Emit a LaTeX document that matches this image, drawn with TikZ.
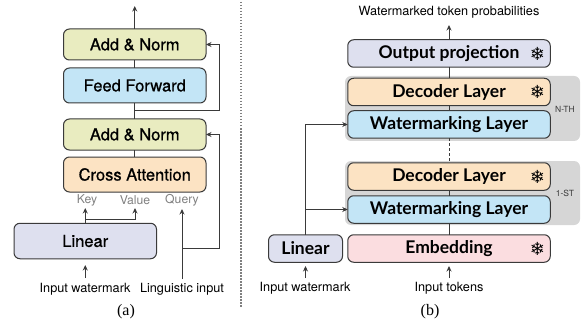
\documentclass[tikz,border=0pt]{standalone}
\usepackage{fontspec}
\setmainfont{TeX Gyre Heros}
\newfontfamily\addfont[FakeBold=0.8]{TeX Gyre Heros}
\newfontfamily\boxfont{Lato}
\newfontfamily\capfont{Liberation Serif}
\newfontfamily\flakefont{DejaVu Sans}
\usetikzlibrary{positioning, arrows.meta}
\definecolor{addcol}{HTML}{E9ECC0}
\definecolor{feedcol}{HTML}{C3E5F6}
\definecolor{crosscol}{HTML}{FCE3C3}
\definecolor{linearcol}{HTML}{DEE0EF}
\definecolor{embedcol}{HTML}{FBDDE0}
\definecolor{linecol}{HTML}{3A3A3A}
\tikzset{
    >={Stealth[length=5.5pt,width=5pt]},
    block/.style={draw=linecol, line width=1pt, rounded corners=6pt, outer sep=0pt, inner sep=0pt, text=black},
    wideblock/.style={block, minimum width=142.5pt, font=\addfont\fontsize{16.5}{18}\selectfont},
    layerblock/.style={block, minimum width=202.5pt, minimum height=27.5pt, font=\boxfont\bfseries\fontsize{17.5}{19}\selectfont},
    group/.style={fill=gray!32, rounded corners=6pt, minimum width=235pt, outer sep=0pt},
    flake/.style={font=\flakefont\fontsize{18}{18}\selectfont, inner sep=0pt, text=black},
    small/.style={font=\fontsize{12.7}{14}\selectfont, inner sep=0pt},
    port/.style={font=\fontsize{12.2}{14}\selectfont, inner sep=0pt, text=gray},
    tag/.style={font=\fontsize{8.5}{10}\selectfont, inner sep=0pt, text=linecol},
    caption/.style={font=\capfont\fontsize{16}{18}\selectfont, inner sep=0pt},
    wire/.style={draw=linecol, line width=1pt},
}
\begin{document}
\begin{tikzpicture}[x=1pt,y=-1pt]
    \useasboundingbox (0,0) rectangle (585,323);
    % left part
    \node[wideblock, fill=addcol, minimum height=31pt] (add2) at (134.75,44.5) {Add \& Norm};
    \node[wideblock, fill=feedcol, minimum height=35pt] (feed) [below=8pt of add2] {Feed Forward};
    \node[wideblock, fill=addcol, minimum height=31pt] (add1) [below=16pt of feed] {Add \& Norm};
    \node[wideblock, fill=crosscol, minimum height=35pt] (cross) [below=7pt of add1] {Cross Attention};
    \node[wideblock, fill=linearcol, minimum height=35.5pt] (lineara) at (85.25,241) {Linear};
    \node[port] (key) at (87,200) {Key};
    \node[port] (value) at (135,200) {Value};
    \node[port] (query) at (182,200) {Query};
    \node[small] (wma) at (85,289) {Input watermark};
    \node[small] (ling) at (182,289) {Linguistic input};
    \node[caption] (capa) at (126,312) {(a)};
    \coordinate (outa) at (134.75,6);
    \coordinate (skip2) at (134.75,111);
    \coordinate (skip2r) at (219,111);
    \coordinate (skip1) at (182,248);
    \coordinate (skip1r) at (219,248);
    \coordinate (kv) at (85.25,219);
    \coordinate (keyin) at (85.25,208);
    \coordinate (valin) at (135,208);
    \coordinate (wmatop) at (85.25,278);
    \coordinate (linbot) at (85.25,265);
    \coordinate (lingtop) at (182,279);
    \coordinate (qin) at (182,209);

    \draw[wire, ->] (add2) -- (outa);
    \draw[wire] (add2) -- (feed);
    \draw[wire] (feed) -- (add1);
    \draw[wire] (add1) -- (cross);
    \draw[wire, ->] (skip2) -- (skip2r) |- (add2.east);
    \draw[wire, ->] (skip1) -- (skip1r) |- (add1.east);
    \draw[wire, ->] (lineara.north) -- (keyin);
    \draw[wire, ->] (kv) -- (kv -| valin) -- (valin);
    \draw[wire, ->] (wmatop) -- (linbot);
    \draw[wire, ->] (lingtop) -- (qin);

    % separator
    \coordinate (sepa) at (241,2);
    \coordinate (sepb) at (241,308);
    \draw[gray, line width=1.3pt, dash pattern=on 1.5pt off 1.5pt] (sepa) -- (sepb);

    % right part
    \node[group, minimum height=65pt, anchor=west] (groupn) at (345,108.5) {};
    \node[group, minimum height=64pt, anchor=west] (groupf) at (345,193) {};
    \node[tag] (tagn) at (565,109) {N-TH};
    \node[tag] (tagf) at (565,193) {1-ST};
    \node[layerblock, fill=linearcol] (outproj) at (449,53.5) {Output projection};
    \node[layerblock, fill=crosscol] (decn) at (449,92) {Decoder Layer};
    \node[layerblock, fill=feedcol] (wmn) [below=5pt of decn] {Watermarking Layer};
    \node[layerblock, fill=crosscol] (decf) at (449,176.5) {Decoder Layer};
    \node[layerblock, fill=feedcol] (wmf) [below=5.5pt of decf] {Watermarking Layer};
    \node[layerblock, fill=embedcol] (embed) at (449,248.5) {Embedding};
    \node[block, fill=linearcol, minimum width=74pt, minimum height=27.5pt, font=\boxfont\bfseries\fontsize{17.5}{19}\selectfont] (linearb) at (305.5,248.5) {Linear};
    \node[flake] (flakeo) at (537.5,53.5) {❄};
    \node[flake] (flaken) at (537.5,92) {❄};
    \node[flake] (flakef) at (537.5,176.5) {❄};
    \node[flake] (flakee) at (537.5,248.5) {❄};
    \node[small] (probs) at (449,12) {Watermarked token probabilities};
    \node[small] (wmb) at (305,288) {Input watermark};
    \node[small] (tokens) at (449,288) {Input tokens};
    \node[caption] (capb) at (430,312) {(b)};
    \coordinate (outb) at (449,25);
    \coordinate (wmbtop) at (305.5,278);
    \coordinate (linbbot) at (305.5,266);
    \coordinate (toktop) at (449,278);
    \coordinate (embbot) at (449,266);

    \draw[wire, ->] (outproj) -- (outb);
    \draw[wire] (outproj) -- (decn);
    \draw[wire] (decn) -- (wmn);
    \draw[wire, densely dashed] (wmn) -- (decf);
    \draw[wire] (decf) -- (wmf);
    \draw[wire] (wmf) -- (embed);
    \draw[wire, ->] (linearb.north) |- (wmn.west);
    \draw[wire, ->] (linearb.north |- wmf.west) -- (wmf.west);
    \draw[wire, ->] (wmbtop) -- (linbbot);
    \draw[wire, ->] (toktop) -- (embbot);
\end{tikzpicture}
\end{document}
